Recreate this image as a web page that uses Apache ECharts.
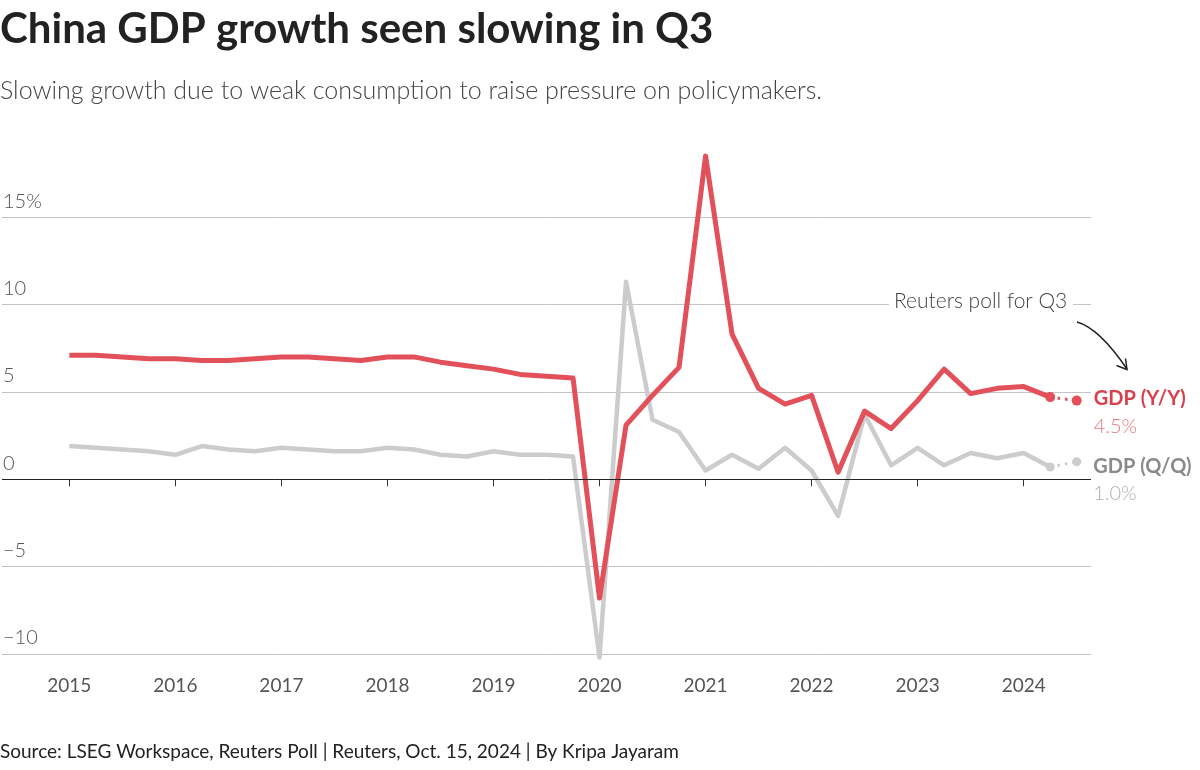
<!DOCTYPE html>
<html>
<head>
<meta charset="utf-8">
<script src="https://cdn.jsdelivr.net/npm/echarts@6/dist/echarts.min.js"></script>
<style>
html,body{margin:0;padding:0;background:#fff;}
#chart{width:1200px;height:770px;}
</style>
</head>
<body>
<div id="chart"></div>
<script>
// Quarters 2015 Q1 .. 2024 Q3 (index 0 .. 38)
var years = [2015, 2016, 2017, 2018, 2019, 2020, 2021, 2022, 2023, 2024];
var quarters = [];
years.forEach(function (y) { ['Q1','Q2','Q3','Q4'].forEach(function (q) { quarters.push(y + ' ' + q); }); });
quarters = quarters.slice(0, 39);

// China GDP, year-on-year % (2015 Q1 .. 2024 Q2)
var gdpYoY = [7.1, 7.1, 7.0, 6.9,  6.9, 6.8, 6.8, 6.9,  7.0, 7.0, 6.9, 6.8,  7.0, 7.0, 6.7, 6.5,
              6.3, 6.0, 5.9, 5.8,  -6.8, 3.1, 4.8, 6.4,  18.5, 8.3, 5.2, 4.3,  4.8, 0.4, 3.9, 2.9,
              4.5, 6.3, 4.9, 5.2,  5.3, 4.7];
// China GDP, quarter-on-quarter % (2015 Q1 .. 2024 Q2)
var gdpQoQ = [1.9, 1.8, 1.7, 1.6,  1.4, 1.9, 1.7, 1.6,  1.8, 1.7, 1.6, 1.6,  1.8, 1.7, 1.4, 1.3,
              1.6, 1.4, 1.4, 1.3,  -10.2, 11.3, 3.4, 2.7,  0.5, 1.4, 0.6, 1.8,  0.5, -2.1, 3.7, 0.8,
              1.8, 0.8, 1.5, 1.2,  1.5, 0.7];
// Reuters poll for Q3 2024
var pollYoY = 4.5;
var pollQoQ = 1.0;

var yTicks = [-10, -5, 0, 5, 10, 15];
var xTickIdx = years.map(function (y, i) { return i * 4; });

function pairs(arr) { return arr.map(function (v, i) { return [i, v]; }); }
var lastIdx = gdpYoY.length - 1;
var pollIdx = lastIdx + 1;

var RED = '#e2505a';
var GRAY = '#cccccc';
var FONT = 'Lato';

var chart = echarts.init(document.getElementById('chart'), null, {renderer: 'canvas'});
chart.setOption({
  animation: false,
  backgroundColor: '#fff',
  textStyle: {fontFamily: FONT},
  title: [
    {text: 'China GDP growth seen slowing in Q3', left: 0, top: 8, padding: 0,
     textStyle: {fontFamily: FONT, fontSize: 42, fontWeight: 'bold', color: '#222'}},
    {text: 'Slowing growth due to weak consumption to raise pressure on policymakers.', left: 0, top: 78, padding: 0,
     textStyle: {fontFamily: FONT, fontSize: 25, fontWeight: 300, color: '#444'}},
    {text: 'Source: LSEG Workspace, Reuters Poll | Reuters, Oct. 15, 2024 | By Kripa Jayaram', left: 0, top: 742, padding: 0,
     textStyle: {fontFamily: FONT, fontSize: 19, fontWeight: 'normal', color: '#222'}}
  ],
  grid: {left: 0, right: 109, top: 147.2, bottom: 116, containLabel: false},
  xAxis: {
    type: 'value', min: -2.54, max: 38.54,
    offset: 8,
    axisLine: {show: false},
    splitLine: {show: false},
    axisTick: {show: true, customValues: xTickIdx, length: 7, lineStyle: {color: '#333', width: 1}},
    axisLabel: {show: true, customValues: xTickIdx, margin: 14,
      formatter: function (v) { return String(2015 + Math.round(v) / 4); },
      fontFamily: FONT, fontSize: 19, color: '#555'}
  },
  yAxis: {
    type: 'value', min: -10, max: 19, interval: 5,
    axisLine: {show: false},
    axisTick: {show: false},
    splitLine: {show: true, showMaxLine: false, lineStyle: {color: '#c4c4c4', width: 1}},
    axisLabel: {
      inside: true, margin: 1, showMaxLabel: false,
      verticalAlign: 'bottom', padding: [0, 0, 6, 0],
      fontFamily: FONT, fontSize: 20, fontWeight: 300, color: '#555',
      formatter: function (v) {
        if (v === 15) return '15%';
        if (v < 0) return '\u2212' + Math.abs(v);
        return String(v);
      }
    }
  },
  series: [
    {
      name: 'GDP (Q/Q)', type: 'line', data: pairs(gdpQoQ),
      showSymbol: false, symbol: 'none', clip: false, z: 2,
      lineStyle: {color: GRAY, width: 4.5, join: 'round'}
    },
    {
      name: 'GDP (Q/Q) poll', type: 'line',
      data: [[lastIdx, gdpQoQ[lastIdx]], [pollIdx, pollQoQ]],
      symbol: 'circle', symbolSize: 9, showSymbol: true, z: 2,
      itemStyle: {color: GRAY},
      lineStyle: {color: GRAY, width: 3, type: [2.5, 5]},
      label: {
        show: true, position: 'right', distance: 12, offset: [0, 18],
        formatter: function (p) { return p.dataIndex === 1 ? '{a|GDP (Q/Q)}\n{b|' + pollQoQ.toFixed(1) + '%}' : ''; },
        rich: {
          a: {fontFamily: FONT, fontSize: 20, fontWeight: 'bold', color: '#8a8a8a', lineHeight: 27},
          b: {fontFamily: FONT, fontSize: 20, fontWeight: 300, color: '#b0b0b0', lineHeight: 27}
        }
      }
    },
    {
      name: 'GDP (Y/Y)', type: 'line', data: pairs(gdpYoY),
      showSymbol: false, symbol: 'none', clip: false, z: 3,
      lineStyle: {color: RED, width: 5, join: 'round'},
      markLine: {
        silent: true, symbol: 'none', animation: false,
        label: {show: false},
        lineStyle: {color: '#222', width: 1, type: 'solid'},
        data: [{yAxis: 0}]
      }
    },
    {
      name: 'GDP (Y/Y) poll', type: 'line',
      data: [[lastIdx, gdpYoY[lastIdx]], [pollIdx, pollYoY]],
      symbol: 'circle', symbolSize: 10, showSymbol: true, z: 3,
      itemStyle: {color: RED},
      lineStyle: {color: RED, width: 3, type: [2.5, 5]},
      label: {
        show: true, position: 'right', distance: 12, offset: [0, 12],
        formatter: function (p) { return p.dataIndex === 1 ? '{a|GDP (Y/Y)}\n{b|' + pollYoY.toFixed(1) + '%}' : ''; },
        rich: {
          a: {fontFamily: FONT, fontSize: 20, fontWeight: 'bold', color: '#d9404b', lineHeight: 28},
          b: {fontFamily: FONT, fontSize: 20, fontWeight: 300, color: '#e87880', lineHeight: 28}
        }
      }
    }
  ],
  graphic: [
    {type: 'rect', z: 100, shape: {x: 889, y: 290, width: 184, height: 24}, style: {fill: '#fff'}},
    {type: 'text', z: 101, x: 894, y: 301,
     style: {text: 'Reuters poll for Q3', font: '300 21px Lato', fill: '#444', textVerticalAlign: 'middle', textAlign: 'left'}},
    {type: 'bezierCurve', z: 101,
     shape: {x1: 1077, y1: 322, x2: 1127, y2: 369, cpx1: 1099, cpy1: 328},
     style: {stroke: '#222', lineWidth: 1.5, fill: null}},
    {type: 'polyline', z: 101,
     shape: {points: [[1116.5, 365.5], [1127, 369.5], [1125.5, 358.5]]},
     style: {stroke: '#222', lineWidth: 1.5, fill: null}}
  ]
});
</script>
</body>
</html>
